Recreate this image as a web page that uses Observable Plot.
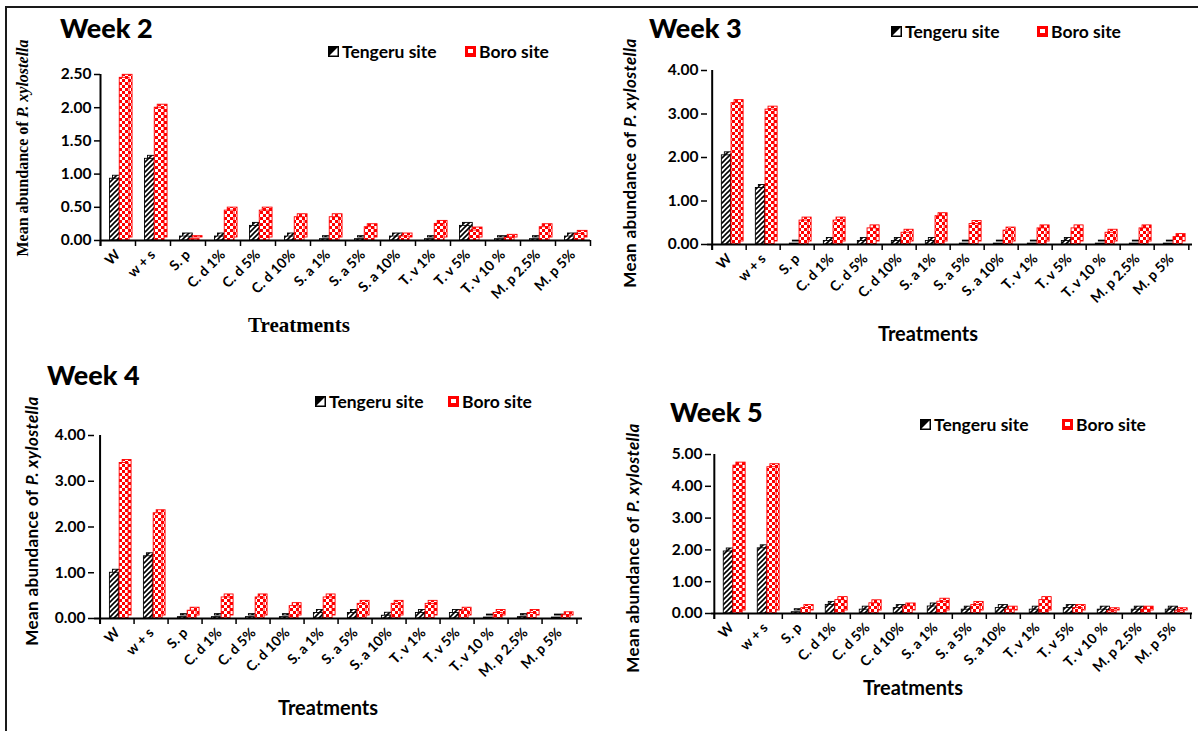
<!DOCTYPE html>
<html><head><meta charset="utf-8">
<script src="https://cdn.jsdelivr.net/npm/d3@7"></script>
<script src="https://cdn.jsdelivr.net/npm/@observablehq/plot@0.6"></script>
<style>
body{margin:0;background:#fff;}
#wrap{position:relative;width:1198px;height:731px;overflow:hidden;background:#fff;font-family:Lato,"Open Sans",sans-serif;color:#000;}
.abs{position:absolute;white-space:nowrap;line-height:1;}
.title{font-weight:900;font-size:27px;}
.leg{font-weight:bold;font-size:17.5px;display:flex;align-items:center;}
.leg svg{margin-right:3px;}
.ytitle{font-weight:bold;font-size:17px;letter-spacing:0.4px;transform:translate(-50%,-50%) rotate(-90deg);}
.xtitle{font-weight:bold;font-size:20px;transform:translate(-50%,-50%);}
.serif{font-family:"Liberation Serif","DejaVu Serif",serif;letter-spacing:0;}
.plot{position:absolute;overflow:visible;}
</style></head>
<body>
<svg width="0" height="0" style="position:absolute">
<defs>
<pattern id="hatch" patternUnits="userSpaceOnUse" width="5" height="5">
<rect width="5" height="5" fill="white"/>
<path d="M-1,1 l2,-2 M0,5 l5,-5 M4,6 l2,-2" stroke="black" stroke-width="1.6"/>
</pattern>
<pattern id="check" patternUnits="userSpaceOnUse" width="6" height="6">
<rect width="6" height="6" fill="#ff0000"/>
<rect width="3" height="3" fill="white"/>
<rect x="3" y="3" width="3" height="3" fill="white"/>
</pattern>
</defs>
</svg>
<div id="wrap"></div>
<script>
const treatments = ["W","w + s","S. p","C. d 1%","C. d 5%","C. d 10%","S. a 1%","S. a 5%","S. a 10%","T. v 1%","T. v 5%","T. v 10 %","M. p 2.5%","M. p 5%"];
const sites = ["Tengeru site","Boro site"];

const week2Tengeru = [0.93,1.23,0.06,0.06,0.22,0.06,0.02,0.02,0.06,0.02,0.22,0.02,0.02,0.06];
const week2Boro    = [2.45,2.00,0.02,0.45,0.45,0.35,0.35,0.20,0.06,0.25,0.15,0.04,0.20,0.10];
const week3Tengeru = [2.05,1.30,0.02,0.08,0.08,0.08,0.08,0.02,0.02,0.02,0.08,0.02,0.02,0.02];
const week3Boro    = [3.25,3.10,0.55,0.55,0.37,0.27,0.65,0.47,0.32,0.37,0.37,0.27,0.37,0.17];
const week4Tengeru = [1.00,1.36,0.03,0.03,0.03,0.03,0.12,0.12,0.06,0.12,0.12,0.02,0.03,0.02];
const week4Boro    = [3.40,2.30,0.17,0.46,0.46,0.27,0.46,0.32,0.32,0.32,0.17,0.12,0.12,0.07];
const week5Tengeru = [1.95,2.05,0.04,0.27,0.12,0.17,0.22,0.12,0.17,0.12,0.17,0.12,0.12,0.12];
const week5Boro    = [4.65,4.60,0.17,0.42,0.32,0.22,0.37,0.27,0.12,0.42,0.17,0.07,0.12,0.07];

const week2Ticks = [0,0.5,1,1.5,2,2.5];
const week3Ticks = [0,1,2,3,4];
const week4Ticks = [0,1,2,3,4];
const week5Ticks = [0,1,2,3,4,5];

const yTitleText = 'Mean abundance of <i>P. xylostella</i>';

const panels = [
  {title:"Week 2", tengeru:week2Tengeru, boro:week2Boro, ticks:week2Ticks,
   x0:100, x1:590, yt:74, yb:240, titleX:60, titleY:28, legY:53, legT:328, legB:465,
   yTitleX:23, yTitleY:148, xTitleX:299, xTitleY:325, serif:true},
  {title:"Week 3", tengeru:week3Tengeru, boro:week3Boro, ticks:week3Ticks,
   x0:707, x1:1192, yt:70, yb:244, titleX:649, titleY:28, legY:33, legT:891, legB:1037,
   yTitleX:629, yTitleY:163, xTitleX:928, xTitleY:333, serif:false},
  {title:"Week 4", tengeru:week4Tengeru, boro:week4Boro, ticks:week4Ticks,
   x0:94, x1:582, yt:435, yb:618, titleX:47, titleY:375, legY:403, legT:315, legB:448,
   yTitleX:31, yTitleY:521, xTitleX:328, xTitleY:707, serif:false},
  {title:"Week 5", tengeru:week5Tengeru, boro:week5Boro, ticks:week5Ticks,
   x0:711, x1:1192, yt:454, yb:613, titleX:670, titleY:412, legY:426, legT:920, legB:1062,
   yTitleX:632, yTitleY:548, xTitleX:913, xTitleY:687, serif:false}
];

const wrap = document.getElementById("wrap");
function addDiv(cls, html, left, top, extra) {
  const d = document.createElement("div");
  d.className = "abs " + cls;
  d.innerHTML = html;
  d.style.left = left + "px";
  d.style.top = top + "px";
  if (extra) Object.assign(d.style, extra);
  wrap.appendChild(d);
  return d;
}

// frame lines (top and left)
addDiv("", "", 6, 6, {width:"1192px", height:"2px", background:"#1a1a1a"});
addDiv("", "", 5, 6, {width:"2px", height:"725px", background:"#1a1a1a"});

const swT = '<svg width="11" height="11"><rect x="0.75" y="0.75" width="9.5" height="9.5" fill="white" stroke="black" stroke-width="1.5"/><path d="M0.75,0.75 H10.25 L0.75,10.25 Z" fill="black"/></svg>';
const swB = '<svg width="11" height="11"><rect width="11" height="11" fill="#ff0000"/><rect x="3" y="3" width="5" height="4" fill="white"/></svg>';

for (const p of panels) {
  const W = p.x1 - p.x0, H = p.yb - p.yt;
  const ml = 62, mr = 10, mt = 10, mb = 95;
  const bw = W / treatments.length;
  const max = p.ticks[p.ticks.length - 1];
  const ppu = H / max;
  const rows = treatments.flatMap((t, i) => [
    {t, site: sites[0], v: p.tengeru[i]},
    {t, site: sites[1], v: p.boro[i]}
  ]);
  const T = rows.filter(d => d.site === sites[0]);
  const B = rows.filter(d => d.site === sites[1]);
  const dep = 3;
  const tIn = {insetLeft: bw * 0.27, insetRight: bw * 0.45};
  const bIn = {insetLeft: bw * 0.55, insetRight: bw * 0.17};
  const back = {dx: dep, dy: -dep};

  const chart = Plot.plot({
    width: W + ml + mr,
    height: H + mt + mb,
    marginLeft: ml, marginRight: mr, marginTop: mt, marginBottom: mb,
    style: {fontFamily: "Lato, 'Open Sans', sans-serif", fontWeight: "bold", color: "black", background: "transparent", overflow: "visible"},
    x: {domain: treatments, padding: 0, axis: null},
    y: {domain: [0, max], axis: null},
    marks: [
      Plot.barY(T, {x: "t", y: "v", ...tIn, ...back, fill: "url(#hatch)", stroke: "black", strokeWidth: 0.9}),
      Plot.barY(T, {x: "t", y: "v", ...tIn, fill: "url(#hatch)", stroke: "black", strokeWidth: 0.9}),
      Plot.barY(B, {x: "t", y: "v", ...bIn, ...back, fill: "url(#check)", stroke: "#ff0000", strokeWidth: 0.9}),
      Plot.barY(B, {x: "t", y: "v", ...bIn, fill: "url(#check)", stroke: "#ff0000", strokeWidth: 0.9}),
      Plot.ruleY([0], {stroke: "black", strokeWidth: 2}),
      Plot.ruleX(treatments, {x: d => d, dx: -bw / 2, y1: 0, y2: -6 / ppu, stroke: "black", strokeWidth: 1.5}),
      Plot.ruleX([treatments[treatments.length - 1]], {x: d => d, dx: bw / 2, y1: 0, y2: -6 / ppu, stroke: "black", strokeWidth: 1.5}),
      Plot.ruleX([treatments[0]], {x: d => d, dx: -bw / 2, y1: -6 / ppu, y2: max, stroke: "black", strokeWidth: 2}),
      Plot.axisY({ticks: p.ticks, tickFormat: d => d.toFixed(2), tickSize: 6, tickPadding: 3, fontSize: 15.5, label: null, stroke: "black", strokeWidth: 1.5}),
      Plot.axisX({tickRotate: -45, tickSize: 0, tickPadding: 12, fontSize: 14, label: null})
    ]
  });
  chart.classList.add("plot");
  chart.style.left = (p.x0 - ml) + "px";
  chart.style.top = (p.yt - mt) + "px";
  chart.style.position = "absolute";
  wrap.appendChild(chart);

  addDiv("title", p.title, p.titleX, p.titleY - 14);
  addDiv("leg", swT + sites[0], p.legT, p.legY - 10);
  addDiv("leg", swB + sites[1], p.legB, p.legY - 10);
  addDiv("ytitle" + (p.serif ? " serif" : ""), yTitleText, p.yTitleX, p.yTitleY, p.serif ? {fontSize: "16px"} : {});
  addDiv("xtitle" + (p.serif ? " serif" : ""), "Treatments", p.xTitleX, p.xTitleY, p.serif ? {fontSize: "21px"} : {});
}
</script>
</body></html>
